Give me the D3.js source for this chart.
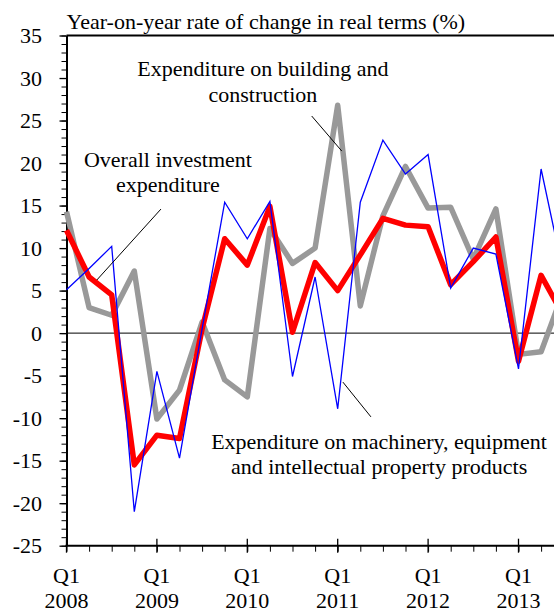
<!DOCTYPE html>
<html>
<head>
<meta charset="utf-8">
<script src="https://cdn.jsdelivr.net/npm/d3@7"></script>
<style>
  html, body { margin: 0; padding: 0; background: #fff; }
  svg { display: block; }
  text { font-family: "Liberation Serif", "Times New Roman", serif; fill: #000; }
</style>
</head>
<body>
<script>
// ---- Data ----
const quarters = ["2008Q1","2008Q2","2008Q3","2008Q4","2009Q1","2009Q2","2009Q3","2009Q4",
  "2010Q1","2010Q2","2010Q3","2010Q4","2011Q1","2011Q2","2011Q3","2011Q4",
  "2012Q1","2012Q2","2012Q3","2012Q4","2013Q1","2013Q2","2013Q3"];
const overall   = [12.1, 6.6, 4.5, -15.5, -12.0, -12.4, 0.5, 11.1, 8.0, 14.9, 0.1, 8.3, 5.0, 9.2, 13.5, 12.7, 12.5, 5.7, 8.4, 11.3, -3.3, 6.8, 2.0];
const machinery = [5.1, 7.6, 10.2, -21.0, -4.5, -14.7, 0.5, 15.4, 11.1, 15.5, -5.1, 6.6, -8.9, 15.4, 22.7, 18.7, 21.0, 5.3, 10.0, 9.3, -4.2, 19.3, 6.8];
const building  = [14.3, 3.0, 2.1, 7.3, -10.1, -6.7, 1.3, -5.5, -7.5, 12.3, 8.2, 10.0, 26.8, 3.2, 13.8, 19.6, 14.7, 14.8, 8.7, 14.6, -2.5, -2.2, 5.0];
const yTicks = [-25, -20, -15, -10, -5, 0, 5, 10, 15, 20, 25, 30, 35];
const xTickLabels = [["Q1","2008"],["Q1","2009"],["Q1","2010"],["Q1","2011"],["Q1","2012"],["Q1","2013"]];
const title = "Year-on-year rate of change in real terms (%)";
const annotations = [
  { lines: ["Expenditure on building and", "construction"], cx: 8.69, vy: [30.24, 27.18], from: [10.85, 25.53], to: [12.18, 21.41] },
  { lines: ["Overall investment", "expenditure"], cx: 4.49, vy: [19.59, 16.65], from: [4.18, 14.59], to: [1.34, 6.24] },
  { lines: ["Expenditure on machinery, equipment", "and intellectual property products"], cx: 13.83, vy: [-13.65, -16.59], from: [12.23, -5.76], to: [13.47, -9.85] }
];

// ---- Layout ----
const W = 554, H = 612;
const svg = d3.select("body").append("svg").attr("width", W).attr("height", H);
svg.append("rect").attr("width", W).attr("height", H).attr("fill", "#fff");

const x = d3.scaleLinear().domain([0, 20]).range([66.5, 518.5]);
const y = d3.scaleLinear().domain([-25, 35]).range([545.7, 35.5]);

// title
svg.append("text").attr("x", 66.5).attr("y", 29).attr("font-size", 22).text(title);

// top border line
svg.append("line").attr("x1", x(0)).attr("x2", W).attr("y1", y(35)).attr("y2", y(35))
  .attr("stroke", "#000").attr("stroke-width", 2);

// zero line
svg.append("line").attr("x1", x(0)).attr("x2", W).attr("y1", y(0)).attr("y2", y(0))
  .attr("stroke", "#000").attr("stroke-width", 1);

// Y axis minor ticks
const yMinor = d3.range(-25, 36, 1);
const gyMinor = svg.append("g").attr("transform", `translate(${x(0)},0)`)
  .call(d3.axisLeft(y).tickValues(yMinor).tickSize(5).tickFormat(""));
gyMinor.select(".domain").remove();
gyMinor.selectAll("line").attr("stroke", "#000").attr("stroke-width", 1);

// Y axis major
const gy = svg.append("g").attr("transform", `translate(${x(0)},0)`)
  .call(d3.axisLeft(y).tickValues(yTicks).tickSize(7).tickPadding(17.5).tickSizeOuter(0)
    .tickFormat(d => String(d)));
gy.select(".domain").attr("stroke", "#000").attr("stroke-width", 2);
gy.selectAll(".tick line").attr("stroke", "#000").attr("stroke-width", 1.3);
gy.selectAll(".tick text").attr("font-size", 22).attr("fill", "#000");

// X axis minor ticks (every quarter)
const qIdx = d3.range(0, quarters.length);
const gxMinor = svg.append("g").attr("transform", `translate(0,${y(-25)})`)
  .call(d3.axisBottom(x).tickValues(qIdx).tickSize(6).tickFormat(""));
gxMinor.select(".domain").remove();
gxMinor.selectAll("line").attr("stroke", "#000").attr("stroke-width", 1);

// X axis line
svg.append("line").attr("x1", x(0) - 1).attr("x2", W).attr("y1", y(-25)).attr("y2", y(-25))
  .attr("stroke", "#000").attr("stroke-width", 2);

// X major ticks crossing axis + labels
const majorIdx = qIdx.filter(i => i % 4 === 0);
const gxMajor = svg.append("g");
gxMajor.selectAll("line").data(majorIdx).join("line")
  .attr("x1", d => x(d)).attr("x2", d => x(d))
  .attr("y1", y(-25) - 7).attr("y2", y(-25) + 7)
  .attr("stroke", "#000").attr("stroke-width", 1.3);
gxMajor.selectAll("text.q").data(majorIdx).join("text").attr("class", "q")
  .attr("x", d => x(d)).attr("y", 583).attr("text-anchor", "middle").attr("font-size", 22)
  .text((d, i) => xTickLabels[i][0]);
gxMajor.selectAll("text.yr").data(majorIdx).join("text").attr("class", "yr")
  .attr("x", d => x(d)).attr("y", 608).attr("text-anchor", "middle").attr("font-size", 22)
  .text((d, i) => xTickLabels[i][1]);

// ---- Lines ----
const line = d3.line().x((d, i) => x(i)).y(d => y(d));
svg.append("path").datum(building).attr("d", line)
  .attr("fill", "none").attr("stroke", "#999999").attr("stroke-width", 5.5).attr("stroke-linejoin", "round");
svg.append("path").datum(overall).attr("d", line)
  .attr("fill", "none").attr("stroke", "#ff0000").attr("stroke-width", 5.5).attr("stroke-linejoin", "round");
svg.append("path").datum(machinery).attr("d", line)
  .attr("fill", "none").attr("stroke", "#0000ff").attr("stroke-width", 1.3).attr("stroke-linejoin", "miter");

// ---- Annotations ----
annotations.forEach(a => {
  a.lines.forEach((t, k) => {
    svg.append("text").attr("x", x(a.cx)).attr("y", y(a.vy[k]))
      .attr("text-anchor", "middle").attr("font-size", 22).text(t);
  });
  svg.append("line")
    .attr("x1", x(a.from[0])).attr("y1", y(a.from[1]))
    .attr("x2", x(a.to[0])).attr("y2", y(a.to[1]))
    .attr("stroke", "#000").attr("stroke-width", 1);
});
</script>
</body>
</html>
